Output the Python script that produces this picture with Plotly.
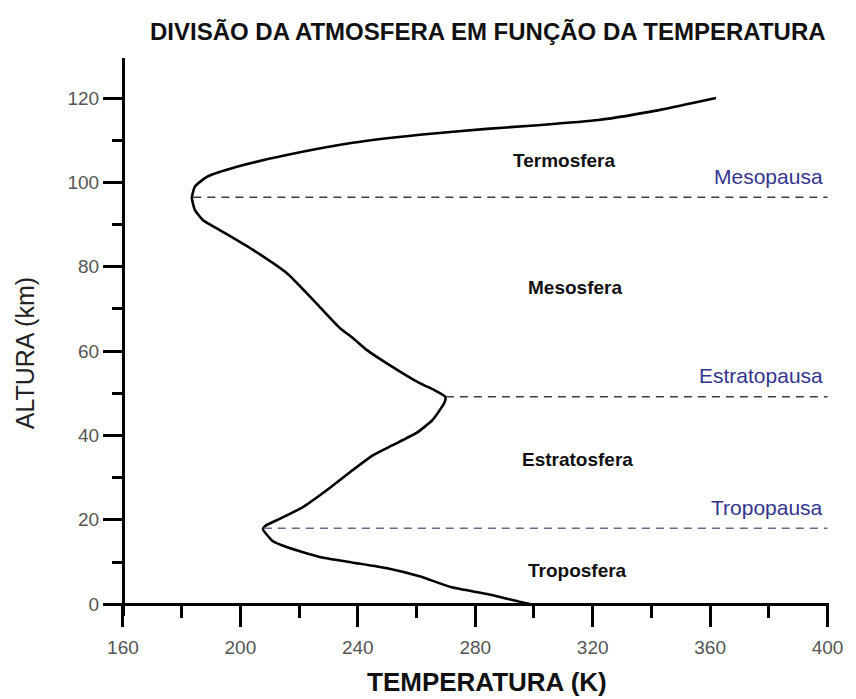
import plotly.graph_objects as go

# perfil de temperatura (K) x altura (km)
temperatura = [299, 295, 284, 272, 261, 250, 238, 227, 216, 211, 207.7, 209, 212.4,
               221.3, 229.4, 238.3, 245.1, 251.9, 260, 265.5, 269.6, 269.8, 266,
               261.1, 249.9, 243, 238.3, 233.9, 227, 215.8, 204.3, 193, 187.2,
               184.5, 183.5, 184.5, 188.6, 198.8, 215.8, 238.3, 261.1, 283.9,
               300, 322, 343, 362]
altura = [0, 0.6, 2.4, 4.0, 6.6, 8.5, 9.9, 11.2, 13.5, 15, 17.8, 18.8, 19.9,
          23, 27, 31.8, 35.3, 37.7, 40.6, 43.7, 47.9, 49.2, 50.8,
          52.4, 57.1, 60.3, 63.1, 65.5, 70.5, 78.5, 84, 88.7, 91.1,
          93.5, 96.3, 99, 101.3, 103.7, 106.5, 109.4, 111.3, 112.7,
          113.5, 114.8, 117.2, 120]

# pausas (linhas tracejadas)
pausas = ["Tropopausa", "Estratopausa", "Mesopausa"]
pausa_altura = [18, 49.2, 96.5]
pausa_inicio = [208, 270, 184]
pausa_fim = [400, 400, 400]
pausa_cor = ["#6a6a8c", "#3c3c46", "#3c3c46"]

# camadas
camadas = ["Troposfera", "Estratosfera", "Mesosfera", "Termosfera"]
camada_altura = [8.1, 34.2, 75.2, 105.3]
camada_temp = [315, 315, 314, 310.5]

x_range = [153.9, 400.5]
y_range = [-2.8, 129.5]

# geometria (px) -- a pagina tem margem de 8px no body
W, H = 848, 691
L, R, T, B = 97, 821.4, 50, 607.6
OFF = 8


def px_x(x):
    return (x - OFF - L) / (R - L)


def px_y(y):
    return (B - (y - OFF)) / (B - T)


fig = go.Figure()

fig.add_trace(go.Scatter(
    x=temperatura, y=altura, mode="lines",
    line=dict(color="black", width=2.6, shape="spline", smoothing=0.5),
    showlegend=False, hoverinfo="skip"))

for nome, h, t0, t1, cor in zip(pausas, pausa_altura, pausa_inicio, pausa_fim, pausa_cor):
    fig.add_trace(go.Scatter(
        x=[t0, t1], y=[h, h], mode="lines",
        line=dict(color=cor, width=1.5, dash="8px,6px"),
        showlegend=False, hoverinfo="skip"))
    fig.add_annotation(x=t1 - 1, y=h + 5, text=nome, showarrow=False,
                       xanchor="right", yanchor="middle",
                       font=dict(family="Liberation Sans, Arial", size=21, color="#34348e"))

for nome, h, t in zip(camadas, camada_altura, camada_temp):
    fig.add_annotation(x=t, y=h, text="<b>" + nome + "</b>", showarrow=False,
                       xanchor="center", yanchor="middle",
                       font=dict(family="Liberation Sans, Arial", size=19, color="#111"))

fig.add_annotation(xref="paper", yref="paper", x=px_x(488), y=px_y(32),
                   text="<b>DIVISÃO DA ATMOSFERA EM FUNÇÃO DA TEMPERATURA</b>",
                   showarrow=False, xanchor="center", yanchor="middle",
                   font=dict(family="Liberation Sans, Arial", size=24, color="#111"))
fig.add_annotation(xref="paper", yref="paper", x=px_x(487), y=px_y(682),
                   text="<b>TEMPERATURA (K)</b>", showarrow=False,
                   xanchor="center", yanchor="middle",
                   font=dict(family="Liberation Sans, Arial", size=26, color="#111"))
fig.add_annotation(xref="paper", yref="paper", x=px_x(25), y=px_y(353),
                   text="ALTURA (km)", showarrow=False, textangle=-90,
                   xanchor="center", yanchor="middle",
                   font=dict(family="Liberation Sans, Arial", size=25, color="#222"))

fig.update_layout(
    width=W, height=H,
    margin=dict(l=L, r=W - R, t=T, b=H - B),
    paper_bgcolor="white", plot_bgcolor="white",
    xaxis=dict(range=x_range, domain=[0, 1], anchor="free",
               position=(0 - y_range[0]) / (y_range[1] - y_range[0]),
               tick0=160, dtick=40, ticks="outside", ticklen=21, tickwidth=3,
               tickcolor="black", showline=True, linecolor="black", linewidth=3,
               showgrid=False, zeroline=False, ticklabelstandoff=4,
               tickfont=dict(family="Liberation Sans, Arial", size=19, color="#555"),
               minor=dict(tick0=160, dtick=20, ticks="outside", ticklen=12,
                          tickwidth=3, tickcolor="black", showgrid=False)),
    yaxis=dict(range=y_range, domain=[0, 1], anchor="free",
               position=(160 - x_range[0]) / (x_range[1] - x_range[0]),
               tick0=0, dtick=20, ticks="outside", ticklen=19, tickwidth=3,
               tickcolor="black", showline=True, linecolor="black", linewidth=3,
               showgrid=False, zeroline=False,
               tickfont=dict(family="Liberation Sans, Arial", size=19, color="#555"),
               minor=dict(tick0=0, dtick=10, ticks="outside", ticklen=10,
                          tickwidth=3, tickcolor="black", showgrid=False)),
)

fig.write_html("out.html")
